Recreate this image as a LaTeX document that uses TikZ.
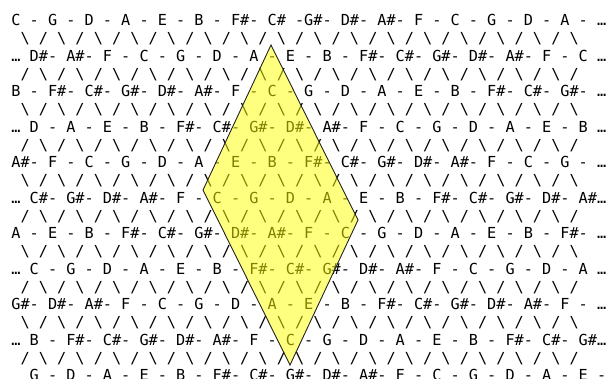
\documentclass[tikz,border=0pt]{standalone}
\usepackage{fontspec}
\setmonofont{DejaVu Sans Mono}
\frenchspacing
\definecolor{lensyellow}{HTML}{FFFF00}
\definecolor{rimgray}{HTML}{222222}
\newcommand{\bk}{\textbackslash}
% links under a row that starts at the left edge, and under a row that starts with ...
\newcommand{\downlinks}{\bk{} / \bk{} / \bk{} / \bk{} / \bk{} / \bk{} / \bk{} / \bk{} / \bk{} / \bk{} / \bk{} / \bk{} / \bk{} / \bk{} / \bk{} / \bk{}}
\newcommand{\uplinks}{/ \bk{} / \bk{} / \bk{} / \bk{} / \bk{} / \bk{} / \bk{} / \bk{} / \bk{} / \bk{} / \bk{} / \bk{} / \bk{} / \bk{} / \bk{} /}
\tikzset{
  noterow/.style={anchor=base west,inner sep=0pt,font=\ttfamily\fontsize{15.2}{18}\selectfont},
  window/.style={draw=rimgray,line width=0.9pt,fill=lensyellow,fill opacity=0.5}
}

\begin{document}
\begin{tikzpicture}[x=1pt,y=-1pt]
\useasboundingbox (0,0) rectangle (608,378);
\node[noterow] (r0) at (11.2,25.7) {C - G - D - A - E - B - F\#- C\# -G\#- D\#- A\#- F - C - G - D - A - …};
\node[noterow] (s0) at (20.35,43.5) {\downlinks};
\node[noterow] (r1) at (11.2,61.2) {… D\#- A\#- F - C - G - D - A - E - B - F\#- C\#- G\#- D\#- A\#- F - C …};
\node[noterow] (s1) at (20.35,79.0) {\uplinks};
\node[noterow] (r2) at (11.2,96.7) {B - F\#- C\#- G\#- D\#- A\#- F - C - G - D - A - E - B - F\#- C\#- G\#- …};
\node[noterow] (s2) at (20.35,114.5) {\downlinks};
\node[noterow] (r3) at (11.2,132.2) {… D - A - E - B - F\#- C\#- G\#- D\#- A\#- F - C - G - D - A - E - B …};
\node[noterow] (s3) at (20.35,150.0) {\uplinks};
\node[noterow] (r4) at (11.2,167.7) {A\#- F - C - G - D - A - E - B - F\#- C\#- G\#- D\#- A\#- F - C - G - …};
\node[noterow] (s4) at (20.35,185.5) {\downlinks};
\node[noterow] (r5) at (11.2,203.2) {… C\#- G\#- D\#- A\#- F - C - G - D - A - E - B - F\#- C\#- G\#- D\#- A\#…};
\node[noterow] (s5) at (20.35,221.0) {\uplinks};
\node[noterow] (r6) at (11.2,238.7) {A - E - B - F\#- C\#- G\#- D\#- A\#- F - C - G - D - A - E - B - F\#- …};
\node[noterow] (s6) at (20.35,256.5) {\downlinks};
\node[noterow] (r7) at (11.2,274.2) {… C - G - D - A - E - B - F\#- C\#- G\#- D\#- A\#- F - C - G - D - A …};
\node[noterow] (s7) at (20.35,292.0) {\uplinks};
\node[noterow] (r8) at (11.2,309.7) {G\#- D\#- A\#- F - C - G - D - A - E - B - F\#- C\#- G\#- D\#- A\#- F - …};
\node[noterow] (s8) at (20.35,327.5) {\downlinks};
\node[noterow] (r9) at (11.2,345.2) {… B - F\#- C\#- G\#- D\#- A\#- F - C - G - D - A - E - B - F\#- C\#- G\#…};
\node[noterow] (s9) at (20.35,363.0) {\uplinks};
\node[noterow] (r10) at (29.5,380.7) {G - D - A - E - B - F\#- C\#- G\#- D\#- A\#- F - C - G - D - A - E -};
% the window over the four C's
\draw[window] (271,45) -- (358,220) -- (290,365) -- (203,190) -- cycle;
\end{tikzpicture}
\end{document}
